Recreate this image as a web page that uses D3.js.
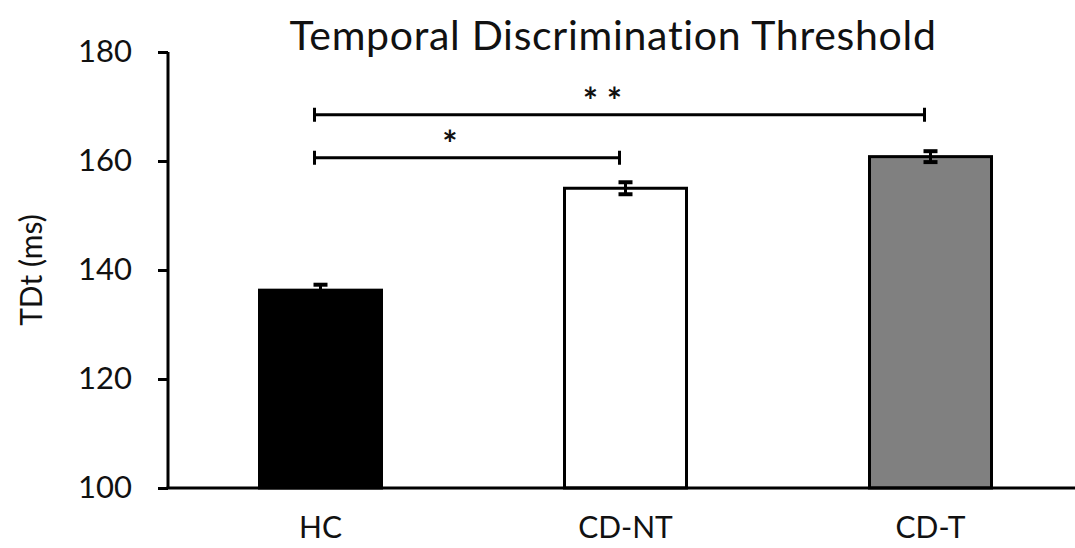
<!DOCTYPE html>
<html>
<head>
<meta charset="utf-8">
<script src="https://cdn.jsdelivr.net/npm/d3@7"></script>
<style>
  body { margin: 0; background: #fff; }
  text { font-family: Lato, "Noto Sans", sans-serif; fill: #111; }
</style>
</head>
<body>
<div id="chart"></div>
<script>
var groups = ["HC", "CD-NT", "CD-T"];
var means = [136.3, 155.0, 160.8];
var errors = [1.0, 1.1, 1.0];
var fills = ["#000000", "#ffffff", "#808080"];
var yTicks = [100, 120, 140, 160, 180];
// significance brackets: from group, to group, label
var sigFrom = ["HC", "HC"];
var sigTo = ["CD-T", "CD-NT"];
var sigLabel = ["* *", "*"];
var sigLevel = [168.5, 160.6];

var width = 1075;
var height = 548;

var svg = d3.select("#chart").append("svg")
    .attr("width", width)
    .attr("height", height);

var yScale = d3.scaleLinear()
    .domain([100, 180])
    .range([488, 52]);

var xScale = d3.scaleBand()
    .domain(groups)
    .range([168, 1083])
    .paddingInner(0.6)
    .paddingOuter(0.3);

// title
svg.append("text")
    .attr("x", 613)
    .attr("y", 50)
    .attr("text-anchor", "middle")
    .style("font-size", "41px")
    .style("letter-spacing", "0.7px")
    .text("Temporal Discrimination Threshold");

// y axis title
svg.append("text")
    .attr("transform", "translate(42,270) rotate(-90)")
    .attr("text-anchor", "middle")
    .style("font-size", "30px")
    .text("TDt (ms)");

// bars
svg.selectAll(".bar")
    .data(means)
    .enter()
    .append("rect")
    .attr("class", "bar")
    .attr("x", function(d, i) { return xScale(groups[i]); })
    .attr("y", function(d) { return yScale(d); })
    .attr("width", xScale.bandwidth())
    .attr("height", function(d) { return yScale(100) - yScale(d); })
    .attr("fill", function(d, i) { return fills[i]; })
    .attr("stroke", "#000")
    .attr("stroke-width", 3);

// error bars
var cx = function(i) { return xScale(groups[i]) + xScale.bandwidth() / 2; };
svg.selectAll(".errline")
    .data(means)
    .enter()
    .append("line")
    .attr("x1", function(d, i) { return cx(i); })
    .attr("x2", function(d, i) { return cx(i); })
    .attr("y1", function(d, i) { return yScale(d + errors[i]); })
    .attr("y2", function(d, i) { return yScale(d - errors[i]); })
    .attr("stroke", "#000")
    .attr("stroke-width", 3);

[1, -1].forEach(function(s) {
    svg.selectAll(".cap" + s)
        .data(means)
        .enter()
        .append("line")
        .attr("x1", function(d, i) { return cx(i) - 7; })
        .attr("x2", function(d, i) { return cx(i) + 7; })
        .attr("y1", function(d, i) { return yScale(d + s * errors[i]); })
        .attr("y2", function(d, i) { return yScale(d + s * errors[i]); })
        .attr("stroke", "#000")
        .attr("stroke-width", 4);
});

// axes
var yAxis = d3.axisLeft(yScale)
    .tickValues(yTicks)
    .tickSize(10)
    .tickPadding(26);

var gy = svg.append("g")
    .attr("transform", "translate(168,0)")
    .call(yAxis);
gy.select(".domain").attr("stroke-width", 3).attr("d", "M0,52V488");
gy.selectAll(".tick line").attr("stroke-width", 3);
gy.selectAll(".tick text").style("font-size", "31px").attr("fill", "#111");

var xAxis = d3.axisBottom(xScale)
    .tickSize(0)
    .tickPadding(29);

var gx = svg.append("g")
    .attr("transform", "translate(0,488)")
    .call(xAxis);
gx.select(".domain").attr("stroke-width", 3).attr("d", "M166.5,0H1075");
gx.selectAll(".tick text").style("font-size", "30px").attr("fill", "#111");

// significance brackets
svg.selectAll(".sig")
    .data(sigLabel)
    .enter()
    .append("path")
    .attr("d", function(d, i) {
        var x1 = cx(groups.indexOf(sigFrom[i])) - 6;
        var x2 = cx(groups.indexOf(sigTo[i])) - 6;
        var y = yScale(sigLevel[i]);
        return "M" + x1 + "," + (y - 7) + "V" + (y + 7) +
               "M" + x1 + "," + y + "H" + x2 +
               "M" + x2 + "," + (y - 7) + "V" + (y + 7);
    })
    .attr("fill", "none")
    .attr("stroke", "#000")
    .attr("stroke-width", 3);

svg.selectAll(".sigtext")
    .data(sigLabel)
    .enter()
    .append("text")
    .attr("x", function(d, i) {
        var x1 = cx(groups.indexOf(sigFrom[i])) - 6;
        var x2 = cx(groups.indexOf(sigTo[i])) - 6;
        return (x1 + x2) / 2 - 17;
    })
    .attr("y", function(d, i) { return yScale(sigLevel[i]) - 1; })
    .attr("text-anchor", "middle")
    .style("font-size", "36px")
    .style("font-weight", "bold")
    .text(function(d) { return d; });
</script>
</body>
</html>
